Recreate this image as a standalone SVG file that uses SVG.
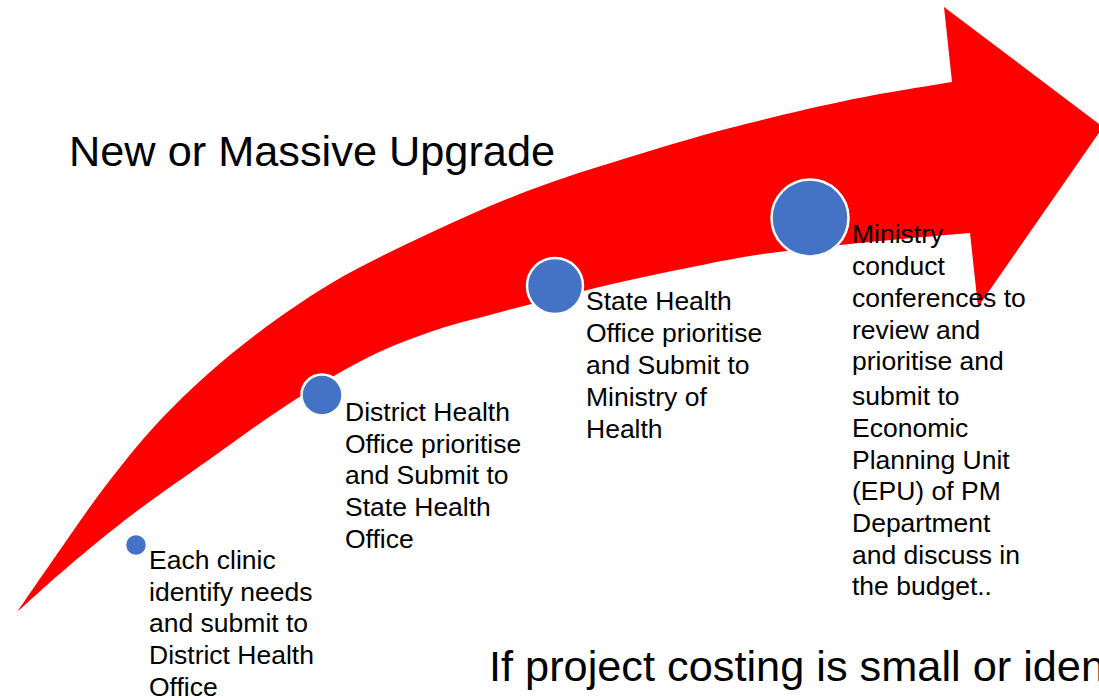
<svg xmlns="http://www.w3.org/2000/svg" width="1099" height="698" viewBox="0 0 1099 698">
<style>
.body{font-family:"Liberation Sans",Arial,sans-serif;font-size:26.5px;fill:#000}
.big{font-family:"Liberation Sans",Arial,sans-serif;font-size:43.3px;fill:#000}
.dot{fill:#4472C4;stroke:#fff;stroke-width:2.5}
</style>
<rect width="1099" height="698" fill="#fff"/>
<g id="connectors">
<path id="arrow" fill="#FF0000" d="M17,612 C24.5,601.2 46.5,569 62,547 C77.5,525 92.5,502.3 110,480 C127.5,457.7 145.3,435.2 167,413 C188.7,390.8 212.8,368.5 240,347 C267.2,325.5 298.3,303 330,284 C361.7,265 396.7,248.7 430,233 C463.3,217.3 496.7,202.7 530,190 C563.3,177.3 596.7,167.3 630,157 C663.3,146.7 693.5,137.5 730,128 C766.5,118.5 812,107.7 849,100 C886,92.3 934.8,85 952,82 L944,7 L1103,127 L978,307 L970,233 C953.3,234.5 904.5,238.5 870,242 C835.5,245.5 791.8,250 763,254 C734.2,258 719.2,261.7 697,266 C674.8,270.3 652.3,275 630,280 C607.7,285 585.2,290.5 563,296 C540.8,301.5 519.2,307 497,313 C474.8,319 452.3,324.2 430,332 C407.7,339.8 386.8,347.8 363,360 C339.2,372.2 312.5,388.5 287,405 C261.5,421.5 235.7,440.8 210,459 C184.3,477.2 156.3,496.3 133,514 C109.7,531.7 89.3,548.7 70,565 C50.7,581.3 25.8,604.2 17,612 Z"/>
</g>
<g id="title"><text class="big" x="69" y="166">New or Massive Upgrade</text></g>
<g id="step1">
<circle class="dot" cx="136" cy="545" r="11"/>
<text class="body"><tspan x="149" y="569">Each clinic</tspan><tspan x="149" y="600.7">identify needs</tspan><tspan x="149" y="632.4">and submit to</tspan><tspan x="149" y="664">District Health</tspan><tspan x="149" y="695.8">Office</tspan></text>
</g>
<g id="step2">
<circle class="dot" cx="322" cy="395" r="20.5"/>
<text class="body"><tspan x="345" y="421">District Health</tspan><tspan x="345" y="452.7">Office prioritise</tspan><tspan x="345" y="484.4">and Submit to</tspan><tspan x="345" y="516">State Health</tspan><tspan x="345" y="547.8">Office</tspan></text>
</g>
<g id="step3">
<circle class="dot" cx="555" cy="286" r="28"/>
<text class="body"><tspan x="586" y="310">State Health</tspan><tspan x="586" y="342">Office prioritise</tspan><tspan x="586" y="374">and Submit to</tspan><tspan x="586" y="406">Ministry of</tspan><tspan x="586" y="438">Health</tspan></text>
</g>
<g id="step4">
<circle class="dot" cx="810" cy="218" r="38.5"/>
<text class="body"><tspan x="852" y="243">Ministry</tspan><tspan x="852" y="275">conduct</tspan><tspan x="852" y="307">conferences to</tspan><tspan x="852" y="338.5">review and</tspan><tspan x="852" y="370">prioritise and</tspan><tspan x="852" y="405">submit to</tspan><tspan x="852" y="437">Economic</tspan><tspan x="852" y="468.5">Planning Unit</tspan><tspan x="852" y="500">(EPU) of PM</tspan><tspan x="852" y="532">Department</tspan><tspan x="852" y="563.5">and discuss in</tspan><tspan x="852" y="595">the budget..</tspan></text>
</g>
<g id="footer"><text class="big" x="489" y="681">If project costing is small or iden</text></g>
</svg>
